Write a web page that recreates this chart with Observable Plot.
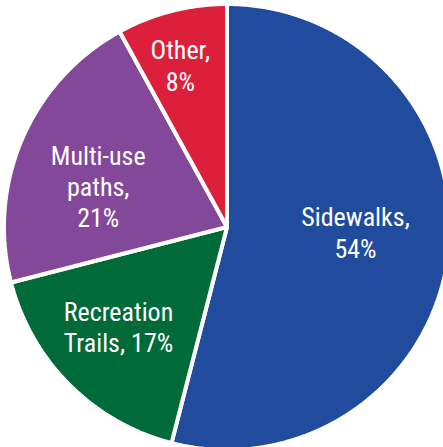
<!DOCTYPE html>
<html>
<head>
<meta charset="utf-8">
<script src="https://cdn.jsdelivr.net/npm/d3@7"></script>
<script src="https://cdn.jsdelivr.net/npm/@observablehq/plot@0.6"></script>
<style>
  html, body { margin: 0; padding: 0; background: #fff; overflow: hidden; }
  #chart svg text { font-stretch: condensed; }
</style>
</head>
<body>
<div id="chart"></div>
<script>
const categories = ["Sidewalks", "Recreation Trails", "Multi-use paths", "Other"];
const values = [54, 17, 21, 8];
const labels = ["Sidewalks,\n54%", "Recreation\nTrails, 17%", "Multi-use\npaths,\n21%", "Other,\n8%"];
const colors = ["#214C9E", "#006A39", "#83489A", "#DC1F3B"];

const W = 443, H = 447;
const cx = 226.5, cy = 226.5, Rpx = 223;

const total = d3.sum(values);
const slices = [];
let acc = 0;
categories.forEach((c, i) => {
  const a0 = acc / total * 2 * Math.PI;
  acc += values[i];
  const a1 = acc / total * 2 * Math.PI;
  const pts = [{x: 0, y: 0}];
  const n = Math.max(2, Math.ceil((a1 - a0) / (Math.PI / 360)));
  for (let k = 0; k <= n; k++) {
    const a = a0 + (a1 - a0) * k / n;
    pts.push({x: Math.sin(a), y: Math.cos(a)});
  }
  pts.push({x: 0, y: 0});
  const mid = (a0 + a1) / 2;
  slices.push({cat: c, color: colors[i], pts, label: labels[i], lx: 0.644 * Math.sin(mid), ly: 0.644 * Math.cos(mid)});
});

const offsets = {
  "Sidewalks": [-14, -13],
  "Recreation Trails": [-7, -2],
  "Multi-use paths": [3, 16],
  "Other": [-11, -23]
};

const marks = [];
slices.forEach(s => {
  marks.push(Plot.line(s.pts, {x: "x", y: "y", fill: s.color, stroke: "white", strokeWidth: 4, strokeLinejoin: "miter", curve: "linear"}));
});
slices.forEach(s => {
  marks.push(Plot.text([s], {
    x: "lx", y: "ly", text: "label",
    dx: offsets[s.cat][0], dy: offsets[s.cat][1],
    fill: "white", fontSize: 26, lineHeight: 1.21, textAnchor: "middle", lineAnchor: "middle",
    fontFamily: "'Roboto Condensed', Roboto, sans-serif"
  }));
});

const chart = Plot.plot({
  width: W, height: H,
  margin: 0,
  x: {domain: [-cx / Rpx, (W - cx) / Rpx], axis: null},
  y: {domain: [(cy - H) / Rpx, cy / Rpx], axis: null},
  style: {background: "white", overflow: "hidden"},
  marks
});
document.getElementById("chart").appendChild(chart);
</script>
</body>
</html>
